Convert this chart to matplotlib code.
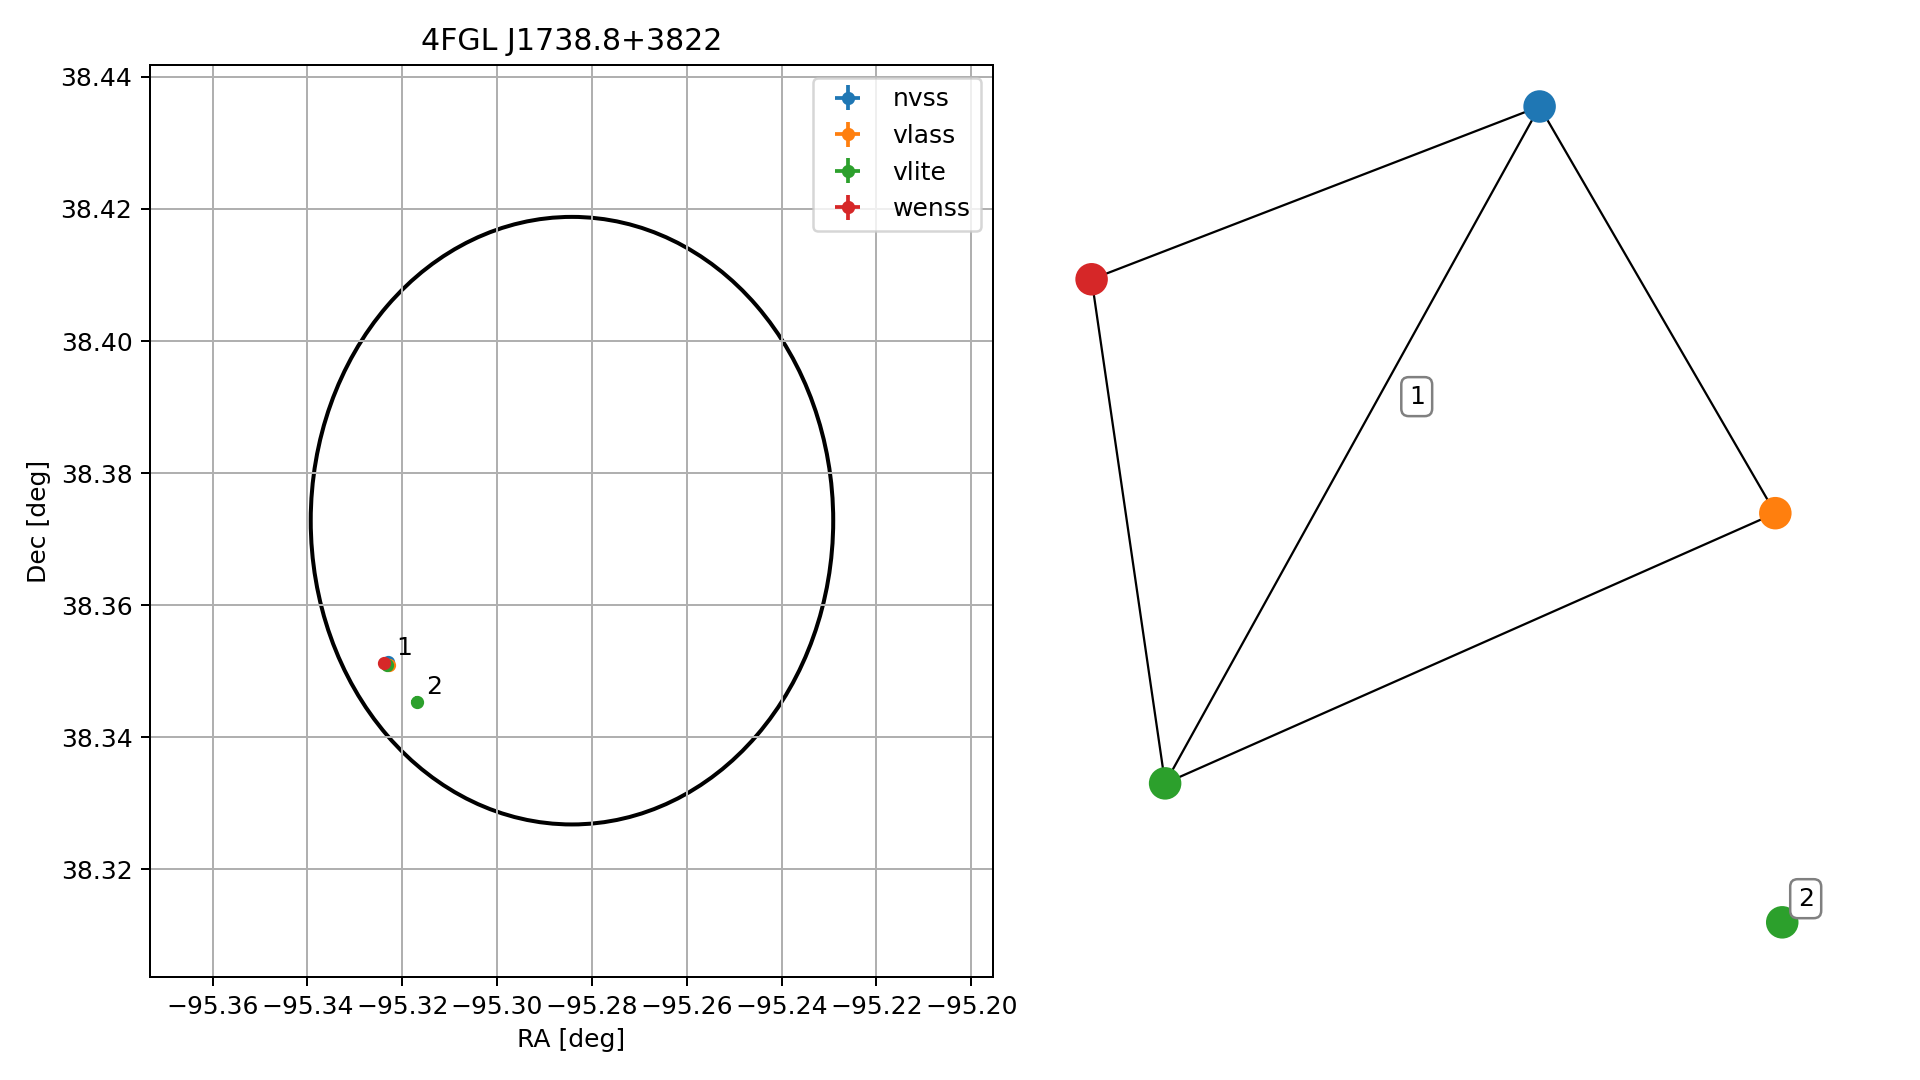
import matplotlib
matplotlib.use("Agg")
import matplotlib.pyplot as plt
from matplotlib.patches import Ellipse

# --- left panel: radio counterparts inside the 4FGL error ellipse ---
title = "4FGL J1738.8+3822"
surveys = ["nvss", "vlass", "vlite", "wenss"]
colors = ["C0", "C1", "C2", "C3"]
ra = [[-95.3229], [-95.3227], [-95.3232, -95.3169], [-95.3239]]
dec = [[38.3514], [38.3510], [38.3509, 38.3453], [38.3513]]
ra_err = [[0.0004], [0.0003], [0.0005, 0.0012], [0.0006]]
dec_err = [[0.0003], [0.0002], [0.0004, 0.0009], [0.0005]]

group_ids = ["1", "2"]
group_ra = [-95.3232, -95.3169]
group_dec = [38.3511, 38.3453]

ell_center = (-95.2842, 38.3728)
ell_width = 0.1102
ell_height = 0.0920

# --- right panel: association graph ---
node_colors = ["C0", "C3", "C1", "C2", "C2"]
node_x = [0.298, -1.0, 0.981, -0.787, 1.001]
node_y = [1.0, 0.576, 0.002, -0.661, -1.002]
edges = [(0, 1), (0, 3), (0, 2), (1, 3), (3, 2)]
comp_labels = ["1", "2"]
comp_x = [-0.058, 1.069]
comp_y = [0.288, -0.944]

fig = plt.figure(figsize=(1920 / 180, 6), dpi=180)

ax = fig.add_axes([150 / 1920, 103 / 1080, 843 / 1920, 912 / 1080])
for name, c, x, y, xe, ye in zip(surveys, colors, ra, dec, ra_err, dec_err):
    ax.errorbar(x, y, xerr=xe, yerr=ye, fmt="o", ms=4.3, color=c, label=name)
ax.add_patch(Ellipse(ell_center, ell_width, ell_height, fill=False,
                     edgecolor="black", lw=1.6))
for gid, gx, gy in zip(group_ids, group_ra, group_dec):
    ax.annotate(gid, (gx, gy), xytext=(3.5, 3.5), textcoords="offset points")
ax.set_xlim(-95.3732, -95.1954)
ax.set_ylim(38.3037, 38.4418)
ax.set_xticks([-95.36, -95.34, -95.32, -95.30, -95.28, -95.26, -95.24, -95.22, -95.20])
ax.grid(True)
ax.set_xlabel("RA [deg]")
ax.set_ylabel("Dec [deg]")
ax.set_title(title)
ax.legend(loc="upper right")

ax2 = fig.add_axes([0.53, 0.05, 0.45, 0.9])
for i, j in edges:
    ax2.plot([node_x[i], node_x[j]], [node_y[i], node_y[j]], color="black",
             lw=0.9, zorder=1)
ax2.scatter(node_x, node_y, s=144, c=node_colors, zorder=2)
for lab, lx, ly in zip(comp_labels, comp_x, comp_y):
    ax2.text(lx, ly, lab, ha="center", va="center", zorder=3,
             bbox=dict(boxstyle="round,pad=0.3", fc="white", ec="gray"))
ax2.set_xlim(-1.2144, 1.2889)
ax2.set_ylim(-1.2564, 1.1288)
ax2.axis("off")

fig.savefig("out.png", dpi=180)
